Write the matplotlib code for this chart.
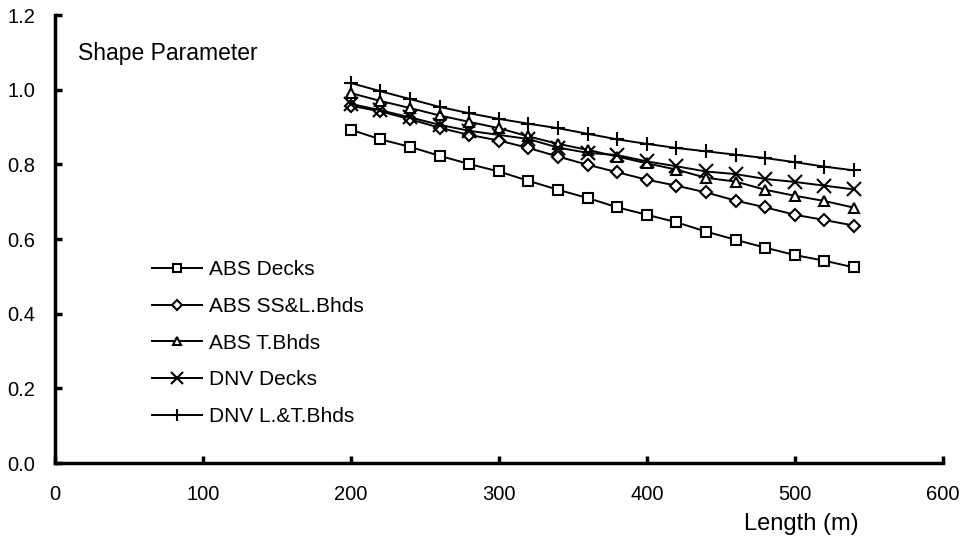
import matplotlib.pyplot as plt

# Longueurs (m)
length = [200, 220, 240, 260, 280, 300, 320, 340, 360, 380, 400, 420, 440, 460, 480, 500, 520, 540]

abs_decks = [0.893, 0.867, 0.847, 0.823, 0.801, 0.781, 0.756, 0.732, 0.710, 0.685, 0.665, 0.645,
             0.620, 0.598, 0.577, 0.557, 0.542, 0.524]
abs_ss_bhds = [0.957, 0.942, 0.921, 0.898, 0.879, 0.864, 0.844, 0.821, 0.799, 0.779, 0.759, 0.743,
               0.725, 0.703, 0.685, 0.665, 0.651, 0.636]
abs_t_bhds = [0.991, 0.970, 0.951, 0.931, 0.914, 0.897, 0.875, 0.855, 0.839, 0.821, 0.803, 0.786,
              0.764, 0.754, 0.732, 0.716, 0.702, 0.684]
dnv_decks = [0.962, 0.945, 0.926, 0.906, 0.890, 0.879, 0.868, 0.845, 0.831, 0.825, 0.808, 0.795,
             0.781, 0.774, 0.761, 0.753, 0.743, 0.733]
dnv_bhds = [1.018, 0.996, 0.975, 0.954, 0.937, 0.922, 0.909, 0.897, 0.882, 0.867, 0.855, 0.844,
            0.835, 0.826, 0.817, 0.806, 0.794, 0.784]

series = [
    ("ABS Decks", abs_decks, "s"),
    ("ABS SS&L.Bhds", abs_ss_bhds, "D"),
    ("ABS T.Bhds", abs_t_bhds, "^"),
    ("DNV Decks", dnv_decks, "x"),
    ("DNV L.&T.Bhds", dnv_bhds, "+"),
]

plt.rcParams['font.family'] = ['Liberation Sans', 'DejaVu Sans']

fig = plt.figure(figsize=(9.63, 5.39), dpi=100)
ax = fig.add_axes([0.057, 0.141, 0.922, 0.831])

for label, values, marker in series:
    size = 7.5 if marker in "s^" else (6 if marker == "D" else 10)
    ax.plot(length, values, color="black", linewidth=1.4, marker=marker,
            markersize=size, markerfacecolor="white", markeredgecolor="black",
            markeredgewidth=1.5, label=label)

ax.set_xlim(0, 600)
ax.set_ylim(0, 1.2)
ax.set_xticks(range(0, 601, 100))
ax.set_yticks([0.0, 0.2, 0.4, 0.6, 0.8, 1.0, 1.2])
ax.set_yticklabels(["0.0", "0.2", "0.4", "0.6", "0.8", "1.0", "1.2"])

for side in ["top", "right"]:
    ax.spines[side].set_visible(False)
for side in ["left", "bottom"]:
    ax.spines[side].set_linewidth(2.5)

ax.tick_params(direction="in", length=5, width=2.5, labelsize=14.5)
ax.tick_params(axis="x", pad=16)
ax.tick_params(axis="y", pad=14)

ax.text(15.5, 1.096, "Shape Parameter", fontsize=16.5, va="center")
ax.text(0.841, -0.136, "Length (m)", fontsize=17, ha="center", va="center",
        transform=ax.transAxes)

ax.legend(loc="upper left", bbox_to_anchor=(0.098, 0.476), frameon=False, borderpad=0,
          fontsize=15, handlelength=2.4, labelspacing=0.85, handletextpad=0.3,
          markerscale=0.85)

fig.savefig("out.png", dpi=100)
